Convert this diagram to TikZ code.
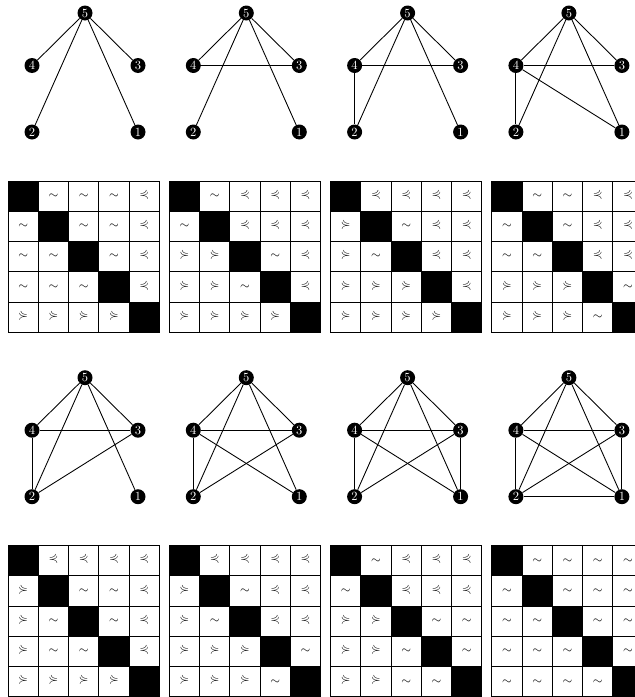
\documentclass[tikz,border=0pt]{standalone}
\usepackage{amssymb}
\usetikzlibrary{calc}

% Contenido de cada celda: x = diagonal, s = indiferente, p = precede, q = sucede
\newcommand{\celdax}{}
\newcommand{\celdas}{$\sim$}
\newcommand{\celdap}{$\curlyeqprec$}
\newcommand{\celdaq}{$\curlyeqsucc$}

\begin{document}
\begin{tikzpicture}[
    x=0.8pt, y=-0.8pt,
    vertice/.style={circle, fill=black, text=white, inner sep=0pt, minimum size=12pt, font=\normalsize},
    arista/.style={line width=0.7pt, black},
    celda/.style={draw=black, line width=0.8pt, minimum size=24.2pt, inner sep=0pt}
]
\useasboundingbox (0,0) rectangle (634,697);

% Bucle para los 8 paneles (2 filas x 4 columnas): grafo arriba, matriz abajo
\foreach \k/\posx/\posy/\aristas/\matriz in {
    1/8/181/{5/4,5/3,5/2,5/1}/%
      {x,s,s,s,p, s,x,s,s,p, s,s,x,s,p, s,s,s,x,p, q,q,q,q,x},
    2/169.3/181/{5/4,5/3,5/2,5/1,4/3}/%
      {x,s,p,p,p, s,x,p,p,p, q,q,x,s,p, q,q,s,x,p, q,q,q,q,x},
    3/330.6/181/{5/4,5/3,5/2,5/1,4/3,4/2}/%
      {x,p,p,p,p, q,x,s,p,p, q,s,x,p,p, q,q,q,x,p, q,q,q,q,x},
    4/491.9/181/{5/4,5/3,5/2,5/1,4/3,4/2,4/1}/%
      {x,s,s,p,p, s,x,s,p,p, s,s,x,p,p, q,q,q,x,s, q,q,q,s,x},
    5/8/545.7/{5/4,5/3,5/2,5/1,4/3,4/2,3/2}/%
      {x,p,p,p,p, q,x,s,s,p, q,s,x,s,p, q,s,s,x,p, q,q,q,q,x},
    6/169.3/545.7/{5/4,5/3,5/2,5/1,4/3,4/2,3/2,4/1}/%
      {x,p,p,p,p, q,x,s,p,p, q,s,x,p,p, q,q,q,x,s, q,q,q,s,x},
    7/330.6/545.7/{5/4,5/3,5/2,5/1,4/3,4/2,3/2,4/1,3/1}/%
      {x,s,p,p,p, s,x,p,p,p, q,q,x,s,s, q,q,s,x,s, q,q,s,s,x},
    8/491.9/545.7/{5/4,5/3,5/2,5/1,4/3,4/2,3/2,4/1,3/1,2/1}/%
      {x,s,s,s,s, s,x,s,s,s, s,s,x,s,s, s,s,s,x,s, s,s,s,s,x}%
}{
    \begin{scope}[shift={(\posx, \posy)}]

        % 1. Vertices del grafo
        \foreach \v/\vx/\vy in {5/77/-168, 4/24/-115.5, 3/130/-115.5, 2/24/-49, 1/130/-49}{
            \node[vertice] (g\k-\v) at (\vx, \vy) {\v};
        }

        % 2. Aristas del grafo
        \foreach \a/\b in \aristas { \draw[arista] (g\k-\a) -- (g\k-\b); }

        % 3. Matriz de preferencias 5x5 (celdas de 30.25 px)
        \foreach \simb [count=\n from 0] in \matriz {
            \pgfmathtruncatemacro\fila{div(\n,5)}
            \pgfmathtruncatemacro\colu{mod(\n,5)}
            \if x\simb \def\fondo{black}\else \def\fondo{white}\fi
            \node[celda, fill=\fondo] (m\k-\n) at ({(\colu+0.5)*30.25}, {(\fila+0.5)*30.25})
                {\csname celda\simb\endcsname};
        }

    \end{scope}
}

\end{tikzpicture}
\end{document}
